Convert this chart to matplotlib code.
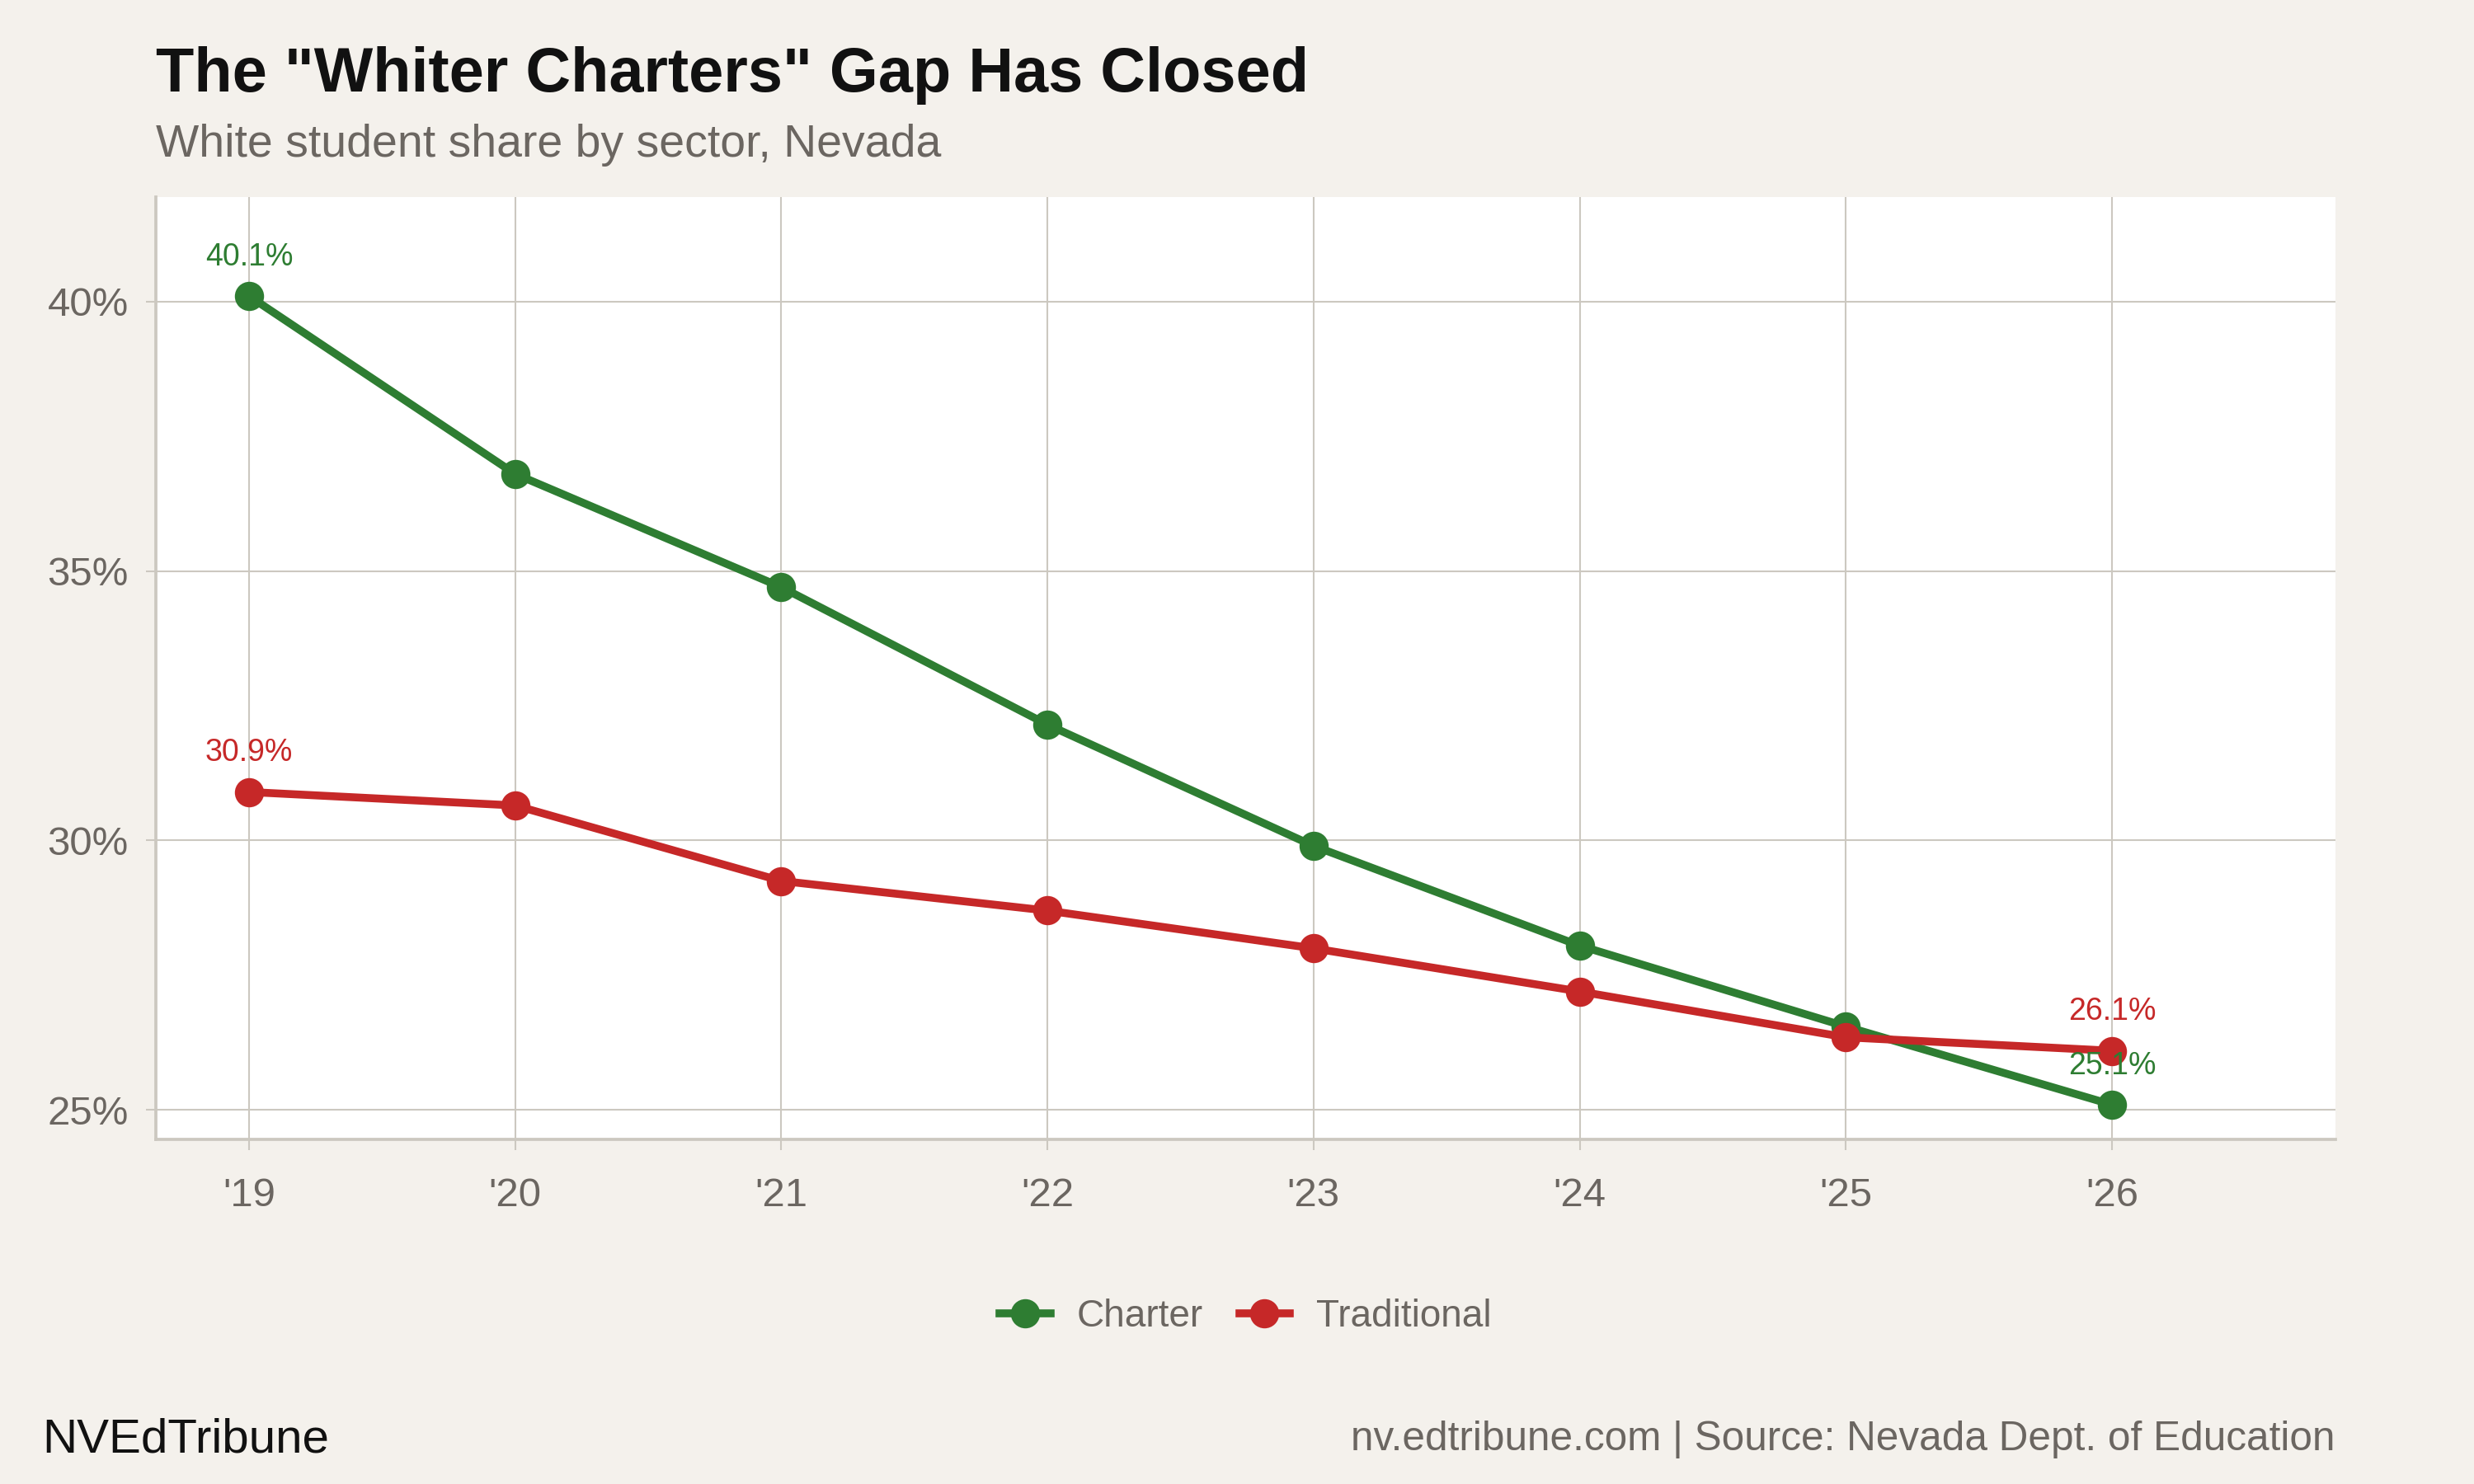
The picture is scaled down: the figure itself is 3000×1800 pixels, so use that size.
import matplotlib
matplotlib.use('Agg')
import matplotlib.pyplot as plt
from matplotlib.ticker import FuncFormatter

plt.rcParams['font.family'] = ['Liberation Sans', 'DejaVu Sans']

# data
years = [2019, 2020, 2021, 2022, 2023, 2024, 2025, 2026]
year_labels = ["'19", "'20", "'21", "'22", "'23", "'24", "'25", "'26"]
charter = [40.1, 36.8, 34.7, 32.15, 29.9, 28.05, 26.55, 25.1]
traditional = [30.9, 30.65, 29.25, 28.7, 28.0, 27.2, 26.35, 26.1]
y_ticks = [25, 30, 35, 40]

GREEN = '#2e7d32'
RED = '#c62828'
BG = '#f4f1ec'
GRID = '#ccc8c0'
GREY_TXT = '#6b6661'

fig = plt.figure(figsize=(10, 6), dpi=300, facecolor=BG)
ax = fig.add_axes([0.063, 0.232, 0.881, 0.635])
ax.set_facecolor('white')

ax.plot(years, charter, color=GREEN, lw=2.3, marker='o', ms=7.5, label='Charter', zorder=3)
ax.plot(years, traditional, color=RED, lw=2.3, marker='o', ms=7.5, label='Traditional', zorder=3)

# first/last labels
for series, col in [(charter, GREEN), (traditional, RED)]:
    for i in (0, -1):
        ax.annotate(f'{series[i]:.1f}%', (years[i], series[i]), xytext=(0, 7),
                    textcoords='offset points', ha='center', va='bottom',
                    color=col, fontsize=9, zorder=4)

ax.set_xlim(2018.65, 2026.84)
ax.set_ylim(24.45, 41.93)
ax.set_xticks(years)
ax.set_xticklabels(year_labels)
ax.set_yticks(y_ticks)
ax.yaxis.set_major_formatter(FuncFormatter(lambda v, p: f'{v:.0f}%'))

ax.grid(True, color=GRID, lw=0.5)
ax.set_axisbelow(True)
for s in ['top', 'right']:
    ax.spines[s].set_visible(False)
for s in ['left', 'bottom']:
    ax.spines[s].set_color(GRID)
    ax.spines[s].set_linewidth(0.9)
ax.tick_params(colors=GRID, labelcolor=GREY_TXT, labelsize=11.8, length=3, width=0.5, pad=5)
ax.tick_params(axis='x', pad=8)

leg = fig.legend(loc='center', bbox_to_anchor=(0.5035, 0.1126), ncol=2, frameon=False,
                 fontsize=11, handlelength=1.35, columnspacing=0.95, handletextpad=0.7)
for t in leg.get_texts():
    t.set_color(GREY_TXT)

fig.text(0.063, 0.949, 'The "Whiter Charters" Gap Has Closed', fontsize=18.2, fontweight='bold',
         color='#111111', ha='left', va='center')
fig.text(0.063, 0.902, 'White student share by sector, Nevada', fontsize=13.3,
         color=GREY_TXT, ha='left', va='center')
fig.text(0.0172, 0.030, 'NVEdTribune', fontsize=14, color='#111111', ha='left', va='center')
fig.text(0.944, 0.030, 'nv.edtribune.com | Source: Nevada Dept. of Education', fontsize=11.9,
         color=GREY_TXT, ha='right', va='center')

fig.savefig('out.png', dpi=300, facecolor=BG)
